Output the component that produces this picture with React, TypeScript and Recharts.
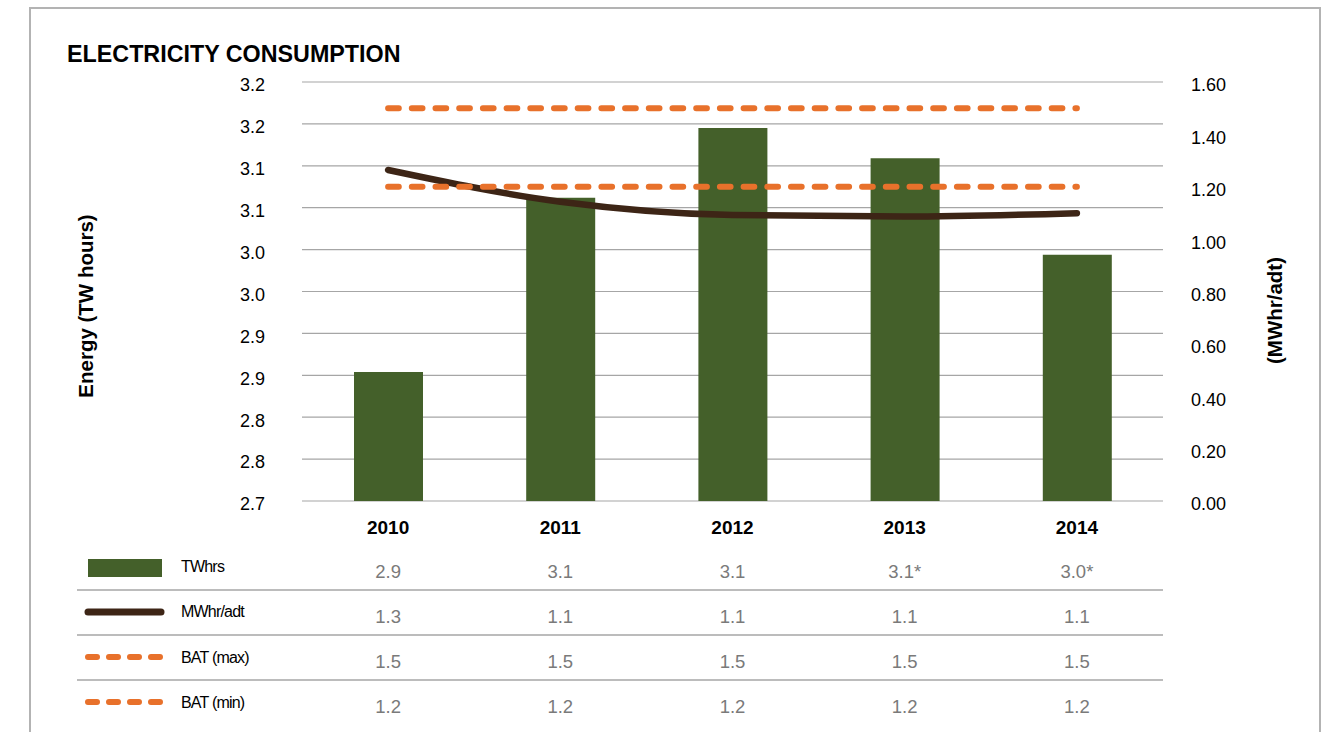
import React from 'react';
import { ComposedChart, Bar, Line, XAxis, YAxis, CartesianGrid } from 'recharts';

const years = ['2010', '2011', '2012', '2013', '2014'];
const twhrs = [2.854, 3.062, 3.145, 3.109, 2.994];
const mwhrPerAdt = [1.264, 1.143, 1.092, 1.086, 1.099];
const batMax = [1.5, 1.5, 1.5, 1.5, 1.5];
const batMin = [1.2, 1.2, 1.2, 1.2, 1.2];

const leftTicks = [2.7, 2.75, 2.8, 2.85, 2.9, 2.95, 3.0, 3.05, 3.1, 3.15, 3.2];
const leftTickLabels = ['2.7', '2.8', '2.8', '2.9', '2.9', '3.0', '3.0', '3.1', '3.1', '3.2', '3.2'];
const rightTicks = [0, 0.2, 0.4, 0.6, 0.8, 1.0, 1.2, 1.4, 1.6];
const rightTickLabels = ['0.00', '0.20', '0.40', '0.60', '0.80', '1.00', '1.20', '1.40', '1.60'];

const tableTWhrs = ['2.9', '3.1', '3.1', '3.1*', '3.0*'];
const tableMWhr = ['1.3', '1.1', '1.1', '1.1', '1.1'];
const tableBatMax = ['1.5', '1.5', '1.5', '1.5', '1.5'];
const tableBatMin = ['1.2', '1.2', '1.2', '1.2', '1.2'];
const tableRows = [tableTWhrs, tableMWhr, tableBatMax, tableBatMin];
const seriesNames = ['TWhrs', 'MWhr/adt', 'BAT (max)', 'BAT (min)'];

const data = years.map((y, i) => ({
  year: y,
  twhrs: twhrs[i],
  mwhr: mwhrPerAdt[i],
  batMax: batMax[i],
  batMin: batMin[i],
}));

const FONT = '"Liberation Sans", Arial, sans-serif';
const GREEN = '#44602a';
const BROWN = '#3d2516';
const ORANGE = '#e8712b';
const GRID = '#a6a6a6';

const labelFor = (ticks: number[], labels: string[]) => (v: number) => {
  const i = ticks.findIndex((t) => Math.abs(t - v) < 1e-6);
  return i >= 0 ? labels[i] : String(v);
};

const YearTick = (props: any) => {
  const { x, y, payload } = props;
  const i = years.indexOf(payload.value);
  return (
    <g>
      <text x={x} y={y + 33} textAnchor="middle" fontFamily={FONT} fontSize={19} fontWeight="bold" fill="#000">
        {payload.value}
      </text>
      {tableRows.map((row, r) => (
        <text key={r} x={x} y={y + 77 + r * 45} textAnchor="middle" fontFamily={FONT} fontSize={18.5} fill="#7a7a7a">
          {row[i]}
        </text>
      ))}
    </g>
  );
};

const Overlay = () => (
  <svg width={1332} height={732} style={{ position: 'absolute', left: 0, top: 0 }}>
    <rect x={30} y={8} width={1290} height={800} fill="none" stroke="#b3b3b3" strokeWidth={2} />
    <text x={67} y={61.5} fontFamily={FONT} fontSize={23.3} fontWeight="bold" fill="#000">
      ELECTRICITY CONSUMPTION
    </text>
    <text transform="translate(93.3,306) rotate(-90)" textAnchor="middle" fontFamily={FONT} fontSize={20.5} fontWeight="bold" fill="#000">
      Energy (TW hours)
    </text>
    <text transform="translate(1281.5,310.5) rotate(-90)" textAnchor="middle" fontFamily={FONT} fontSize={20.5} fontWeight="bold" fill="#000">
      (MWhr/adt)
    </text>
    {[590, 635, 680].map((yy) => (
      <line key={yy} x1={77} x2={1163} y1={yy} y2={yy} stroke={GRID} strokeWidth={1.5} />
    ))}
    <rect x={88} y={559} width={74} height={18} fill={GREEN} />
    <line x1={88} x2={161} y1={612} y2={612} stroke={BROWN} strokeWidth={7} strokeLinecap="round" />
    <line x1={88} x2={160} y1={657} y2={657} stroke={ORANGE} strokeWidth={6} strokeLinecap="round" strokeDasharray="9 12" />
    <line x1={88} x2={160} y1={702} y2={702} stroke={ORANGE} strokeWidth={6} strokeLinecap="round" strokeDasharray="9 12" />
    {seriesNames.map((n, i) => (
      <text key={n} x={181} y={572 + i * 45.3} fontFamily={FONT} fontSize={16} letterSpacing={-0.8} fill="#000">
        {n}
      </text>
    ))}
  </svg>
);

export default function App() {
  return (
    <div style={{ position: 'absolute', left: 0, top: 0, width: 1332, height: 732, background: '#fff', fontFamily: FONT }}>
      <Overlay />
      <div style={{ position: 'absolute', left: 0, top: 0 }}>
        <ComposedChart
          width={1332}
          height={732}
          data={data}
          margin={{ top: 82, right: 109, bottom: 201, left: 242 }}
        >
          <CartesianGrid yAxisId="left" vertical={false} stroke={GRID} strokeWidth={1.2} />
          <XAxis
            dataKey="year"
            axisLine={false}
            tickLine={false}
            tickSize={0}
            tickMargin={0}
            height={30}
            interval={0}
            tick={<YearTick />}
          />
          <YAxis
            yAxisId="left"
            orientation="left"
            width={60}
            domain={[2.7, 3.2]}
            ticks={leftTicks}
            interval={0}
            axisLine={false}
            tickLine={false}
            tickSize={0}
            tickMargin={37}
            tickFormatter={labelFor(leftTicks, leftTickLabels)}
            tick={{ fontSize: 18, fill: '#000', fontFamily: FONT, dy: 3 }}
          />
          <YAxis
            yAxisId="right"
            orientation="right"
            width={60}
            domain={[0, 1.6]}
            ticks={rightTicks}
            interval={0}
            axisLine={false}
            tickLine={false}
            tickSize={0}
            tickMargin={28}
            tickFormatter={labelFor(rightTicks, rightTickLabels)}
            tick={{ fontSize: 18, fill: '#000', fontFamily: FONT, dy: 3, textAnchor: 'start' }}
          />
          <Bar yAxisId="left" dataKey="twhrs" barSize={69} fill={GREEN} isAnimationActive={false} />
          <Line
            yAxisId="right"
            type="monotone"
            dataKey="mwhr"
            stroke={BROWN}
            strokeWidth={6.5}
            strokeLinecap="round"
            dot={false}
            activeDot={false}
            isAnimationActive={false}
          />
          <Line
            yAxisId="right"
            type="linear"
            dataKey="batMax"
            stroke={ORANGE}
            strokeWidth={6}
            strokeLinecap="round"
            strokeDasharray="10.7 13"
            dot={false}
            activeDot={false}
            isAnimationActive={false}
          />
          <Line
            yAxisId="right"
            type="linear"
            dataKey="batMin"
            stroke={ORANGE}
            strokeWidth={6}
            strokeLinecap="round"
            strokeDasharray="10.7 13"
            dot={false}
            activeDot={false}
            isAnimationActive={false}
          />
        </ComposedChart>
      </div>
    </div>
  );
}
